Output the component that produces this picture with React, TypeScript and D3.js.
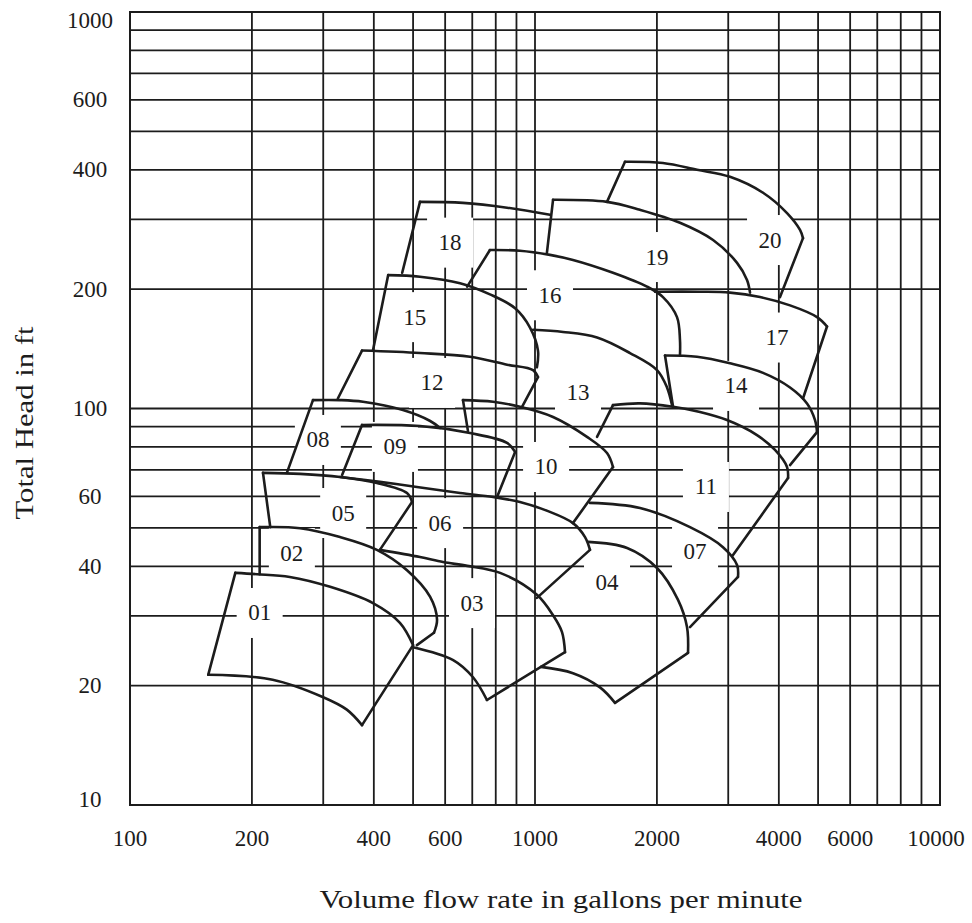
import React from 'react';
import * as d3 from 'd3';

type Pt = [number, number];

// axis values
const flowTicks = [100, 200, 400, 600, 1000, 2000, 4000, 6000, 10000];
const headTicks = [10, 20, 40, 60, 100, 200, 400, 600, 1000];
const flowGrid = [200, 300, 400, 500, 600, 700, 800, 900, 1000, 2000, 3000, 4000, 5000, 6000, 7000, 8000, 9000];
const headGrid = [20, 30, 40, 50, 60, 70, 80, 90, 100, 200, 300, 400, 500, 600, 700, 800, 900];

// visible outline pieces of each pump tile, [gpm, ft]
const tile01: Pt[][] = [
  [[156, 21.3], [182, 38.5]],
  [[182, 38.5], [206, 38.2], [248, 37.6], [312, 35.5], [398, 32.3], [464, 28.8], [500, 25.3]],
  [[500, 25.3], [374, 15.9]],
  [[156, 21.3], [225, 20.7], [300, 18.7], [343, 17.4], [374, 15.9]],
];
const tile02: Pt[][] = [
  [[209, 38.2], [209, 50.2]],
  [[209, 50.2], [263, 49.9], [330, 47.4], [407, 44.0], [483, 39.1], [551, 33.5], [573, 29.3], [563, 27.2]],
  [[563, 27.2], [511, 25.3]],
];
const tile03: Pt[][] = [
  [[414, 44.0], [520, 42.2], [593, 41.0], [680, 40.1], [820, 38.5], [1011, 33.9], [1108, 30.1], [1166, 27.3], [1186, 24.3]],
  [[1186, 24.3], [761, 18.4]],
  [[500, 25.0], [628, 23.2], [703, 21.0], [761, 18.4]],
];
const tile04: Pt[][] = [
  [[1352, 46.1], [1688, 44.5], [2001, 39.6], [2255, 32.9], [2373, 28.1], [2387, 24.2]],
  [[2387, 24.2], [1576, 18.1]],
  [[1035, 22.3], [1241, 21.5], [1447, 19.8], [1576, 18.1]],
];
const tile05: Pt[][] = [
  [[222, 50.2], [213, 68.8]],
  [[213, 68.8], [263, 68.4], [330, 67.2], [407, 64.9], [483, 61.2], [497, 58.1]],
  [[497, 58.1], [414, 44.0]],
];
const tile06: Pt[][] = [
  [[330, 67.2], [414, 65.3], [511, 63.4], [653, 61.2], [788, 59.8], [918, 58.1], [1077, 55.1], [1241, 51.4], [1329, 47.4], [1367, 44.0]],
  [[1367, 44.0], [1011, 33.3]],
];
const tile07: Pt[][] = [
  [[1367, 57.8], [1817, 56.1], [2414, 50.2], [2912, 44.7], [3154, 40.3], [3171, 37.6]],
  [[3171, 37.6], [2414, 28.1]],
];
const tile08: Pt[][] = [
  [[244, 68.8], [283, 105]],
  [[283, 105], [330, 105], [376, 104], [472, 99.1], [551, 93.0], [583, 89.3]],
];
const tile09: Pt[][] = [
  [[334, 68.0], [374, 90.9]],
  [[374, 90.9], [520, 90.3], [691, 86.7], [853, 81.9], [893, 77.7]],
  [[893, 77.7], [806, 59.8]],
];
const tile10: Pt[][] = [
  [[683, 87.8], [664, 105]],
  [[664, 105], [788, 104], [918, 101], [1108, 95.2], [1344, 84.8], [1506, 77.2], [1558, 71.2]],
  [[1558, 71.2], [1241, 51.4]],
];
const tile11: Pt[][] = [
  [[1423, 84.8], [1558, 102]],
  [[1558, 102], [1817, 103], [2192, 101], [2555, 98.0], [2979, 93.5], [3533, 85.7], [3914, 78.6], [4191, 71.2], [4215, 66.8]],
  [[4215, 66.8], [3083, 42.7]],
];
const tile12: Pt[][] = [
  [[326, 106], [374, 140]],
  [[374, 140], [520, 138], [691, 135], [853, 129], [989, 125], [1017, 120]],
  [[1017, 120], [929, 101]],
];
const tile13: Pt[][] = [
  [[989, 158], [1173, 156], [1423, 151], [1716, 138], [2001, 125], [2118, 113], [2179, 102]],
];
const tile14: Pt[][] = [
  [[2192, 101], [2094, 136]],
  [[2094, 136], [2512, 135], [3030, 130], [3656, 123], [4263, 113], [4695, 103], [4914, 93.5], [4970, 87.2]],
  [[4970, 87.2], [4263, 72.0]],
];
const tile15: Pt[][] = [
  [[398, 140], [434, 217]],
  [[434, 217], [520, 215], [653, 207], [774, 194], [893, 179], [972, 160], [1017, 140], [1011, 127]],
];
const tile16: Pt[][] = [
  [[680, 203], [774, 251]],
  [[774, 251], [918, 250], [1089, 244], [1241, 237], [1558, 220], [1890, 203], [2070, 191], [2242, 170], [2280, 149], [2280, 136]],
];
const tile17: Pt[][] = [
  [[1979, 197], [2555, 197], [3030, 196], [3594, 191], [4263, 182], [4970, 170], [5260, 161]],
  [[5260, 161], [4589, 106]],
];
const tile18: Pt[][] = [
  [[470, 220], [520, 332]],
  [[520, 332], [664, 330], [853, 321], [1089, 308]],
];
const tile19: Pt[][] = [
  [[1070, 247], [1108, 336]],
  [[1108, 336], [1506, 332], [1817, 317], [2280, 294], [2752, 266], [3154, 233], [3338, 211], [3396, 196]],
];
const tile20: Pt[][] = [
  [[1506, 332], [1668, 419]],
  [[1668, 419], [2070, 416], [2512, 400], [3030, 384], [3656, 350], [4191, 311], [4512, 282], [4589, 269]],
  [[4589, 269], [4027, 191]],
];

// label name, gpm, ft
const tileLabels: [string, number, number][] = [
  ['01', 209, 30.5], ['02', 251, 43.2], ['03', 699, 32.3], ['04', 1506, 36.3],
  ['05', 336, 54.5], ['06', 583, 51.4], ['07', 2484, 43.7], ['08', 291, 83.3],
  ['09', 451, 80], ['10', 1065, 71.2], ['11', 2643, 63.4], ['12', 557, 116],
  ['13', 1277, 110], ['14', 3136, 114], ['15', 505, 170], ['16', 1089, 193],
  ['17', 3959, 151], ['18', 617, 262], ['19', 2001, 241], ['20', 3805, 266],
];

const tiles = [tile01, tile02, tile03, tile04, tile05, tile06, tile07, tile08, tile09, tile10,
  tile11, tile12, tile13, tile14, tile15, tile16, tile17, tile18, tile19, tile20];

const serif = '"Liberation Serif", "DejaVu Serif", serif';

export default function App() {
  const width = 972;
  const height = 923;
  const x = d3.scaleLog().domain([100, 10000]).range([130, 940]);
  const y = d3.scaleLog().domain([10, 1000]).range([805, 12]);

  const line = d3
    .line<Pt>()
    .x((d) => x(d[0]))
    .y((d) => y(d[1]))
    .curve(d3.curveCatmullRom.alpha(0.5));

  const ink = '#1c1c1c';

  return (
    <svg width={width} height={height} style={{ position: 'absolute', left: 0, top: 0, background: '#fff' }}>
      <rect width={width} height={height} fill="#fff" />

      {/* grid */}
      <g stroke={ink} strokeWidth={1.8}>
        {flowGrid.map((q) => (
          <line key={'gx' + q} x1={x(q)} x2={x(q)} y1={y(10)} y2={y(1000)} />
        ))}
        {headGrid.map((h) => (
          <line key={'gy' + h} x1={x(100)} x2={x(10000)} y1={y(h)} y2={y(h)} />
        ))}
      </g>
      <rect
        x={x(100)}
        y={y(1000)}
        width={x(10000) - x(100)}
        height={y(10) - y(1000)}
        fill="none"
        stroke={ink}
        strokeWidth={2}
      />

      {/* blank patches behind the tile numbers */}
      <g fill="#fff">
        {tileLabels.map(([id, q, h]) => (
          <rect key={'b' + id} x={x(q) - 23} y={y(h) - 25} width={46} height={50} />
        ))}
      </g>

      {/* tile outlines */}
      <g fill="none" stroke={ink} strokeWidth={2.6} strokeLinejoin="round" strokeLinecap="round">
        {tiles.map((strokes, i) =>
          strokes.map((s, j) => <path key={`t${i}-${j}`} d={line(s) || ''} />)
        )}
      </g>

      <g fontFamily={serif} fontSize={23} fill={ink} textAnchor="middle" dominantBaseline="central">
        {tileLabels.map(([id, q, h]) => (
          <text key={'l' + id} x={x(q)} y={y(h)}>
            {id}
          </text>
        ))}
      </g>

      {/* axes labels */}
      <g fontFamily={serif} fontSize={23} fill={ink} textAnchor="middle">
        {flowTicks.map((q) => (
          <text key={'xt' + q} x={Math.min(x(q), 936)} y={838} dominantBaseline="central">
            {q}
          </text>
        ))}
        {headTicks.map((h) => (
          <text key={'yt' + h} x={90} y={Math.max(20, Math.min(y(h), 799))} dominantBaseline="central">
            {h}
          </text>
        ))}
      </g>

      <text
        x={561}
        y={908}
        fontFamily={serif}
        fontSize={25}
        fill={ink}
        textAnchor="middle"
        textLength={483}
        lengthAdjust="spacingAndGlyphs"
      >
        Volume flow rate in gallons per minute
      </text>
      <text
        transform="translate(33,423) rotate(-90)"
        fontFamily={serif}
        fontSize={25}
        fill={ink}
        textAnchor="middle"
        textLength={193}
        lengthAdjust="spacingAndGlyphs"
      >
        Total Head in ft
      </text>
    </svg>
  );
}
